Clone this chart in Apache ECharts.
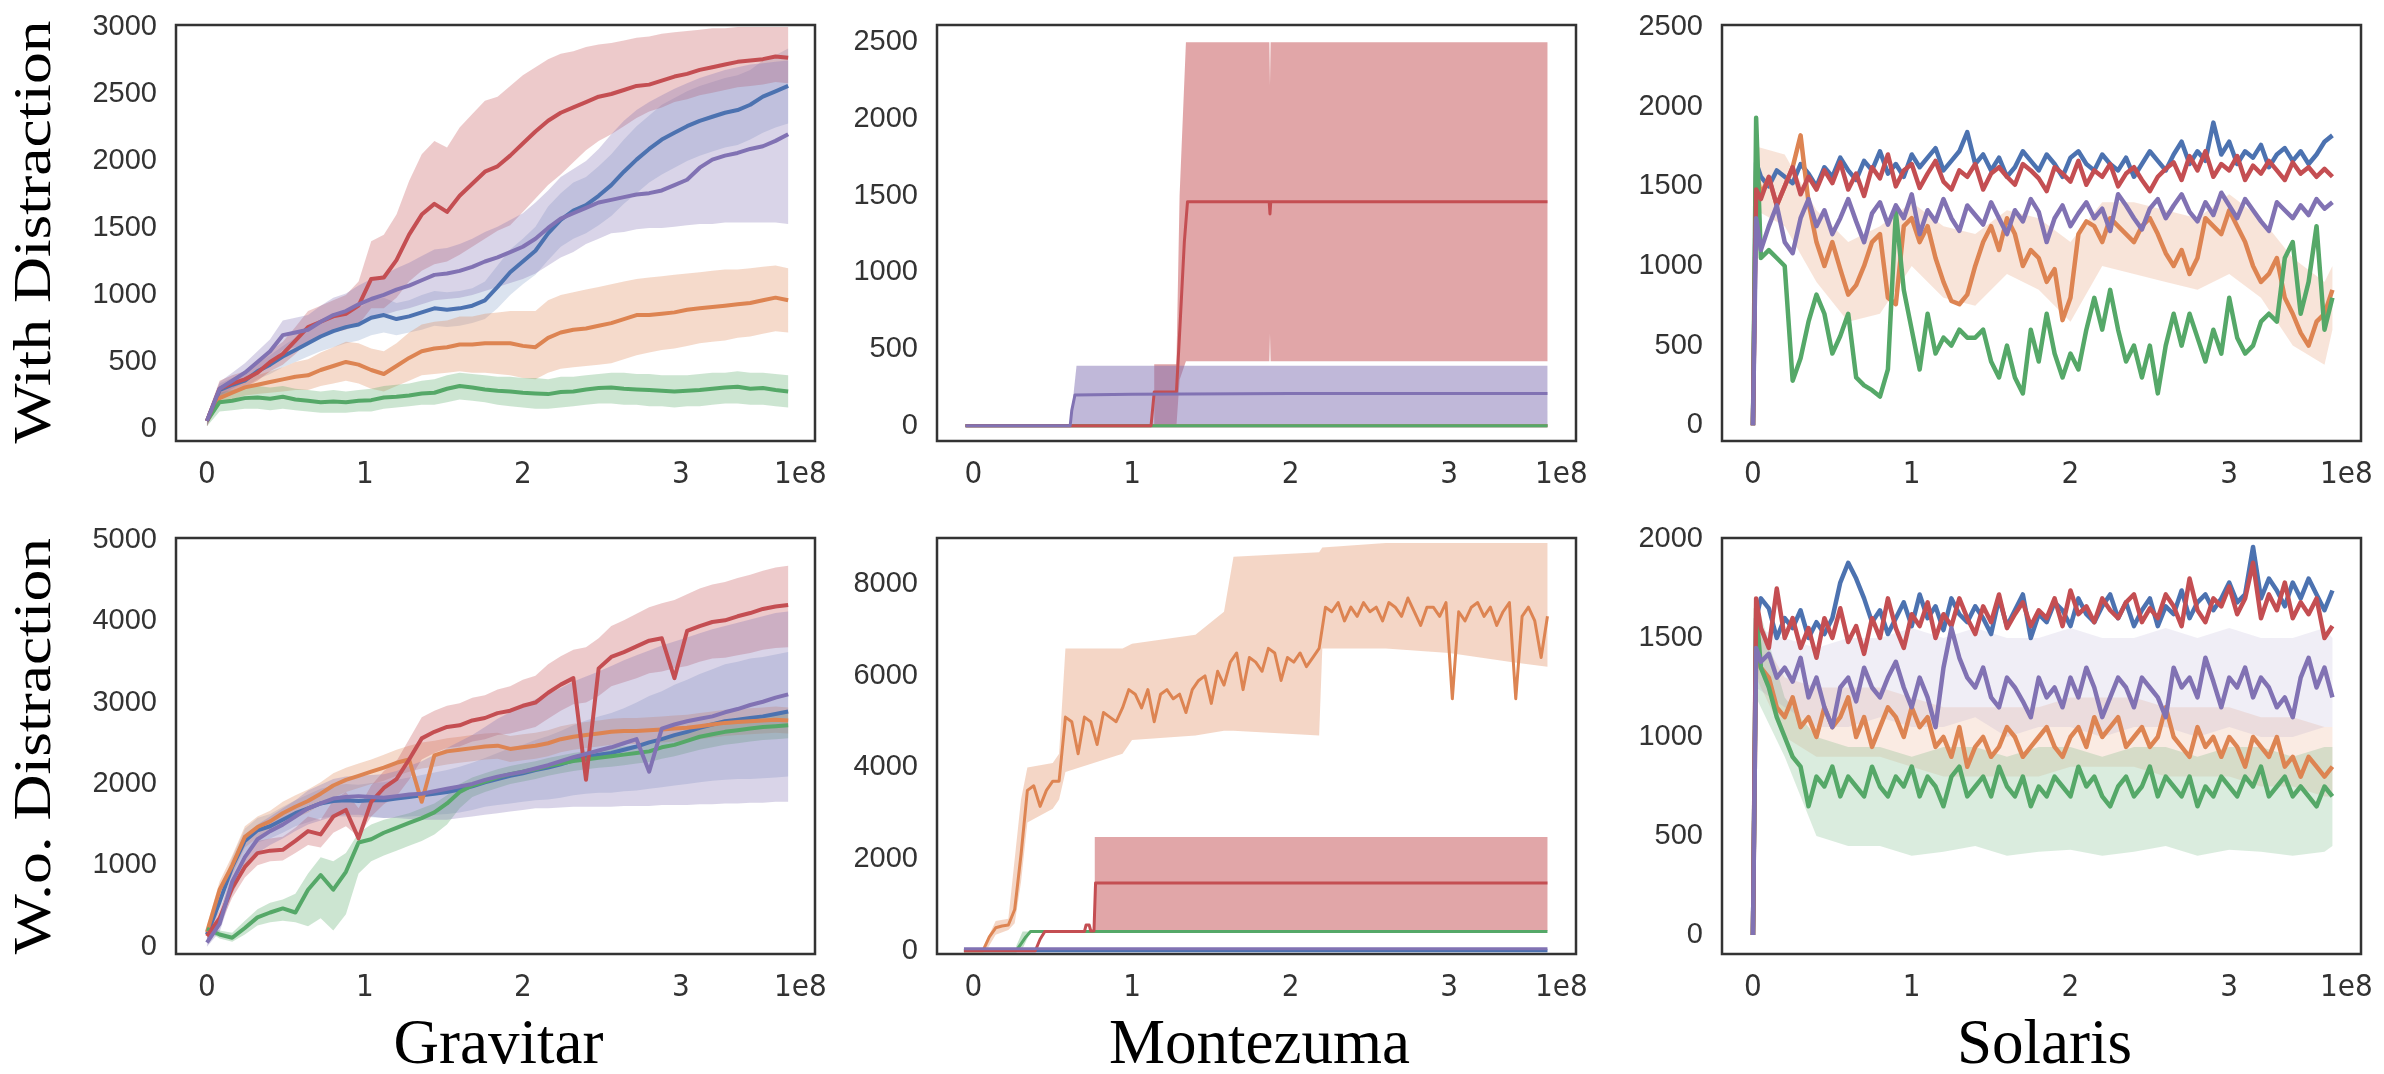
<!DOCTYPE html>
<html>
<head>
<meta charset="utf-8">
<title>Gravitar / Montezuma / Solaris</title>
<script src="https://cdn.jsdelivr.net/npm/echarts@6/dist/echarts.min.js"></script>
<style>
  html, body { margin: 0; padding: 0; background: #fff; }
  #chart { width: 2384px; height: 1074px; }
</style>
</head>
<body>
<div id="chart"></div>
<script>
/********* data (x in units of 1e8 steps) *********/
var xTicks = [0, 1, 2, 3];
var yTicksGravWith = [0, 500, 1000, 1500, 2000, 2500, 3000];
var yTicksMonteWith = [0, 500, 1000, 1500, 2000, 2500];
var yTicksSolWith = [0, 500, 1000, 1500, 2000, 2500];
var yTicksGravWo = [0, 1000, 2000, 3000, 4000, 5000];
var yTicksMonteWo = [0, 2000, 4000, 6000, 8000];
var yTicksSolWo = [0, 500, 1000, 1500, 2000];

// Gravitar
var gravX = [0, 0.08, 0.16, 0.24, 0.32, 0.40, 0.48, 0.56, 0.64, 0.72,
  0.80, 0.88, 0.96, 1.04, 1.12, 1.20, 1.28, 1.36, 1.44, 1.52,
  1.60, 1.68, 1.76, 1.84, 1.92, 2.00, 2.08, 2.16, 2.24, 2.32,
  2.40, 2.48, 2.56, 2.64, 2.72, 2.80, 2.88, 2.96, 3.04, 3.12,
  3.20, 3.28, 3.36, 3.44, 3.52, 3.60, 3.68];

var gravWithRed = [60, 300, 340, 370, 420, 500, 560, 660, 760, 800,
  840, 860, 920, 1120, 1130, 1260, 1450, 1600, 1680, 1620,
  1740, 1830, 1920, 1960, 2040, 2130, 2220, 2300, 2360, 2400,
  2440, 2480, 2500, 2530, 2560, 2570, 2600, 2630, 2650, 2680,
  2700, 2720, 2740, 2750, 2760, 2780, 2770];
var gravWithRedLo = [20, 240, 280, 310, 360, 430, 480, 560, 650, 690,
  720, 740, 780, 900, 900, 980, 1100, 1180, 1230, 1250,
  1300, 1360, 1420, 1480, 1520, 1620, 1720, 1820, 1900, 1990,
  2080, 2150, 2200, 2260, 2320, 2370, 2400, 2440, 2460, 2490,
  2510, 2530, 2550, 2560, 2570, 2590, 2580];
var gravWithRedHi = [100, 360, 400, 430, 490, 580, 650, 760, 880, 920,
  960, 1000, 1100, 1400, 1450, 1600, 1850, 2050, 2150, 2100,
  2250, 2350, 2450, 2480, 2560, 2640, 2700, 2760, 2800, 2820,
  2850, 2870, 2880, 2900, 2920, 2930, 2950, 2960, 2970, 2980,
  2990, 2990, 3000, 3000, 3000, 3000, 3000];
var gravWithBlue = [60, 290, 330, 360, 430, 480, 540, 590, 640, 690,
  730, 760, 780, 830, 850, 820, 840, 870, 900, 890,
  900, 920, 960, 1060, 1170, 1250, 1330, 1460, 1560, 1630,
  1670, 1740, 1820, 1920, 2010, 2090, 2160, 2210, 2260, 2300,
  2330, 2360, 2380, 2420, 2480, 2520, 2560];
var gravWithBlueLo = [20, 240, 280, 310, 370, 410, 460, 500, 540, 580,
  610, 640, 660, 700, 720, 700, 720, 740, 770, 760,
  770, 790, 820, 900, 1000, 1080, 1150, 1260, 1360, 1420,
  1460, 1520, 1590, 1680, 1760, 1840, 1900, 1950, 2000, 2040,
  2070, 2100, 2120, 2160, 2210, 2250, 2280];
var gravWithBlueHi = [100, 340, 380, 410, 490, 550, 620, 680, 740, 800,
  850, 880, 900, 960, 980, 940, 960, 1000, 1030, 1020,
  1030, 1050, 1100, 1220, 1340, 1420, 1510, 1660, 1760, 1840,
  1880, 1960, 2050, 2160, 2260, 2340, 2420, 2470, 2520, 2560,
  2590, 2620, 2640, 2680, 2750, 2790, 2840];
var gravWithPurple = [60, 300, 360, 420, 500, 580, 700, 720, 740, 800,
  850, 880, 930, 970, 1000, 1040, 1070, 1110, 1150, 1160,
  1180, 1210, 1250, 1280, 1320, 1360, 1420, 1500, 1570, 1610,
  1650, 1690, 1710, 1730, 1750, 1760, 1780, 1820, 1860, 1950,
  2010, 2040, 2060, 2090, 2110, 2150, 2200];
var gravWithPurpleLo = [20, 250, 300, 350, 420, 490, 590, 610, 630, 680,
  720, 750, 790, 820, 850, 880, 900, 930, 960, 970,
  980, 1000, 1030, 1060, 1090, 1120, 1160, 1220, 1280, 1320,
  1380, 1420, 1460, 1470, 1490, 1500, 1500, 1510, 1520, 1530,
  1530, 1540, 1540, 1540, 1540, 1540, 1530];
var gravWithPurpleHi = [100, 350, 420, 490, 580, 670, 810, 830, 850, 920,
  980, 1010, 1070, 1120, 1150, 1200, 1240, 1290, 1340, 1350,
  1380, 1420, 1470, 1510, 1560, 1610, 1690, 1780, 1880, 1940,
  2000, 2090, 2200, 2300, 2380, 2440, 2490, 2540, 2580, 2620,
  2650, 2680, 2700, 2720, 2730, 2740, 2750];
var gravWithOrange = [60, 230, 270, 310, 330, 350, 370, 390, 400, 440,
  470, 500, 480, 440, 410, 470, 530, 580, 600, 610,
  630, 630, 640, 640, 640, 620, 610, 680, 720, 740,
  750, 770, 790, 820, 850, 850, 860, 870, 890, 900,
  910, 920, 930, 940, 960, 980, 960];
var gravWithOrangeLo = [20, 190, 220, 250, 260, 270, 280, 290, 290, 320,
  340, 360, 340, 300, 280, 320, 360, 400, 410, 420,
  430, 420, 420, 410, 400, 380, 370, 420, 450, 460,
  470, 480, 490, 520, 550, 570, 590, 600, 620, 640,
  650, 660, 680, 690, 710, 730, 720];
var gravWithOrangeHi = [100, 270, 320, 370, 400, 430, 460, 500, 520, 570,
  610, 650, 640, 600, 580, 640, 720, 780, 800, 810,
  840, 840, 860, 870, 880, 880, 880, 960, 1000, 1020,
  1040, 1060, 1080, 1100, 1120, 1130, 1140, 1150, 1160, 1170,
  1180, 1190, 1190, 1200, 1210, 1220, 1200];
var gravWithGreen = [60, 200, 210, 230, 235, 225, 240, 220, 210, 200,
  205, 200, 210, 215, 235, 240, 250, 265, 270, 300,
  320, 310, 295, 285, 280, 270, 265, 260, 275, 280,
  295, 305, 310, 300, 295, 290, 285, 280, 285, 290,
  300, 310, 315, 300, 305, 290, 280];
var gravWithGreenLo = [20, 130, 140, 150, 150, 140, 150, 140, 130, 120,
  120, 120, 130, 130, 150, 160, 170, 180, 180, 200,
  220, 210, 200, 180, 170, 160, 150, 150, 160, 170,
  180, 190, 190, 180, 180, 170, 170, 160, 170, 170,
  180, 190, 190, 180, 180, 170, 160];
var gravWithGreenHi = [100, 270, 290, 310, 320, 310, 320, 300, 290, 280,
  290, 280, 290, 300, 320, 330, 340, 360, 370, 400,
  420, 410, 400, 390, 390, 380, 380, 370, 390, 390,
  400, 410, 420, 420, 410, 410, 400, 400, 400, 410,
  420, 420, 430, 420, 420, 410, 400];

var gravWoRed = [130, 350, 720, 980, 1150, 1180, 1190, 1300, 1420, 1380,
  1600, 1680, 1330, 1780, 1950, 2060, 2300, 2560, 2640, 2700,
  2720, 2780, 2810, 2870, 2900, 2960, 3000, 3120, 3220, 3300,
  2050, 3420, 3560, 3620, 3690, 3760, 3790, 3300, 3880, 3940,
  3990, 4010, 4060, 4100, 4150, 4180, 4200];
var gravWoRedLo = [60, 250, 600, 850, 1000, 1050, 1060, 1150, 1250, 1220,
  1400, 1480, 1350, 1600, 1750, 1850, 2050, 2300, 2380, 2440,
  2460, 2520, 2550, 2600, 2620, 2660, 2700, 2800, 2900, 2980,
  3000, 3080, 3200, 3250, 3300, 3360, 3380, 3420, 3450, 3500,
  3540, 3550, 3580, 3610, 3650, 3670, 3680];
var gravWoRedHi = [220, 450, 850, 1120, 1300, 1330, 1350, 1460, 1600, 1560,
  1800, 1900, 1700, 1980, 2160, 2280, 2550, 2820, 2900, 2960,
  2990, 3060, 3090, 3160, 3200, 3280, 3330, 3470, 3570, 3650,
  3680, 3790, 3940, 4010, 4090, 4170, 4220, 4260, 4330, 4400,
  4450, 4480, 4530, 4570, 4620, 4660, 4680];
var gravWoOrange = [180, 700, 1000, 1350, 1470, 1540, 1640, 1720, 1790, 1880,
  1980, 2050, 2100, 2150, 2200, 2260, 2300, 1780, 2350, 2400,
  2420, 2440, 2460, 2470, 2430, 2450, 2470, 2500, 2550, 2580,
  2600, 2620, 2640, 2650, 2650, 2660, 2670, 2680, 2690, 2710,
  2730, 2750, 2760, 2770, 2780, 2790, 2780];
var gravWoOrangeLo = [100, 600, 880, 1220, 1340, 1410, 1500, 1580, 1650, 1740,
  1830, 1900, 1950, 2000, 2040, 2100, 2150, 2190, 2210, 2240,
  2260, 2280, 2300, 2310, 2270, 2290, 2310, 2340, 2390, 2420,
  2440, 2460, 2480, 2490, 2490, 2500, 2510, 2520, 2530, 2550,
  2570, 2590, 2600, 2610, 2620, 2630, 2620];
var gravWoOrangeHi = [260, 800, 1120, 1480, 1600, 1670, 1780, 1860, 1930, 2020,
  2130, 2200, 2250, 2300, 2360, 2420, 2470, 2510, 2530, 2560,
  2580, 2600, 2620, 2630, 2590, 2610, 2630, 2660, 2710, 2740,
  2760, 2780, 2800, 2810, 2810, 2820, 2830, 2840, 2850, 2870,
  2890, 2910, 2920, 2930, 2940, 2950, 2940];
var gravWoBlue = [150, 550, 980, 1300, 1430, 1480, 1560, 1640, 1700, 1760,
  1790, 1800, 1790, 1800, 1800, 1820, 1840, 1860, 1880, 1900,
  1930, 1970, 2020, 2060, 2100, 2130, 2170, 2200, 2240, 2290,
  2330, 2360, 2380, 2420, 2460, 2510, 2550, 2600, 2640, 2690,
  2730, 2770, 2790, 2810, 2830, 2860, 2890];
var gravWoBlueLo = [80, 450, 850, 1150, 1280, 1330, 1400, 1480, 1530, 1580,
  1600, 1600, 1590, 1590, 1580, 1590, 1600, 1610, 1620, 1630,
  1650, 1680, 1720, 1740, 1760, 1780, 1800, 1810, 1830, 1860,
  1880, 1890, 1890, 1910, 1920, 1940, 1960, 1980, 2000, 2020,
  2040, 2050, 2060, 2060, 2070, 2080, 2090];
var gravWoBlueHi = [220, 650, 1100, 1450, 1580, 1630, 1720, 1800, 1870, 1940,
  1980, 2000, 1990, 2010, 2020, 2050, 2080, 2110, 2140, 2170,
  2210, 2260, 2320, 2380, 2440, 2480, 2540, 2590, 2650, 2720,
  2780, 2830, 2870, 2930, 3000, 3080, 3140, 3220, 3280, 3350,
  3410, 3470, 3500, 3540, 3560, 3590, 3620];
var gravWoPurple = [50, 280, 800, 1100, 1320, 1420, 1500, 1600, 1700, 1760,
  1820, 1840, 1850, 1840, 1830, 1850, 1870, 1880, 1910, 1940,
  1970, 2000, 2050, 2090, 2120, 2150, 2190, 2230, 2280, 2330,
  2370, 2410, 2450, 2500, 2550, 2150, 2680, 2730, 2770, 2800,
  2830, 2880, 2920, 2970, 3010, 3060, 3100];
var gravWoPurpleLo = [0, 180, 650, 950, 1150, 1250, 1330, 1420, 1500, 1550,
  1600, 1620, 1620, 1600, 1580, 1580, 1570, 1560, 1560, 1560,
  1580, 1600, 1620, 1640, 1660, 1680, 1700, 1700, 1710, 1720,
  1720, 1720, 1720, 1730, 1730, 1730, 1740, 1740, 1740, 1750,
  1750, 1760, 1760, 1770, 1770, 1780, 1780];
var gravWoPurpleHi = [120, 400, 950, 1250, 1500, 1600, 1700, 1800, 1920, 1990,
  2060, 2090, 2100, 2110, 2120, 2160, 2220, 2280, 2360, 2440,
  2520, 2600, 2700, 2800, 2880, 2960, 3040, 3100, 3180, 3260,
  3320, 3380, 3450, 3520, 3580, 3640, 3700, 3750, 3800, 3850,
  3900, 3940, 3980, 4020, 4060, 4100, 4120];
var gravWoGreen = [220, 150, 110, 230, 360, 420, 470, 420, 700, 880,
  700, 920, 1280, 1320, 1400, 1460, 1520, 1580, 1650, 1760,
  1900, 1980, 2030, 2080, 2120, 2150, 2180, 2220, 2250, 2280,
  2300, 2320, 2340, 2360, 2380, 2400, 2450, 2480, 2530, 2580,
  2610, 2640, 2660, 2680, 2700, 2710, 2720];
var gravWoGreenLo = [200, 100, 60, 150, 260, 300, 320, 300, 250, 350,
  200, 400, 900, 1050, 1120, 1180, 1240, 1300, 1380, 1500,
  1700, 1840, 1900, 1950, 2000, 2030, 2060, 2100, 2130, 2160,
  2180, 2200, 2210, 2230, 2250, 2270, 2310, 2340, 2380, 2420,
  2450, 2480, 2500, 2520, 2540, 2550, 2560];
var gravWoGreenHi = [250, 200, 170, 320, 460, 540, 580, 650, 900, 1100,
  1050, 1150, 1400, 1500, 1560, 1600, 1640, 1700, 1760, 1860,
  2000, 2080, 2130, 2180, 2220, 2250, 2280, 2320, 2350, 2380,
  2400, 2420, 2440, 2460, 2480, 2500, 2560, 2600, 2660, 2720,
  2760, 2790, 2800, 2820, 2840, 2860, 2870];

// Montezuma, with distraction (step-like curves)
var monteWithFlatX = [-0.05, 3.62];
var monteWithFlat = [0, 0];
var monteWithRedX = [-0.05, 1.12, 1.14, 1.28, 1.30, 1.33, 1.35, 1.865, 1.87, 1.875, 3.62];
var monteWithRed = [0, 0, 220, 220, 600, 1200, 1460, 1460, 1380, 1460, 1460];
var monteWithRedBandX = [1.14, 1.28, 1.30, 1.34, 1.866, 1.87, 1.874, 3.62];
var monteWithRedLo = [0, 0, 300, 420, 420, 600, 420, 420];
var monteWithRedHi = [400, 400, 1500, 2500, 2500, 2220, 2500, 2500];
var monteWithPurpleX = [-0.05, 0.61, 0.62, 0.64, 1.00, 2.00, 3.00, 3.62];
var monteWithPurple = [0, 0, 100, 200, 205, 210, 210, 210];
var monteWithPurpleBandX = [0.62, 0.65, 3.62];
var monteWithPurpleLo = [0, 0, 0];
var monteWithPurpleHi = [100, 390, 390];

// Montezuma, without distraction
var monteWoX = [-0.06, -0.02, 0.02, 0.06, 0.10, 0.14, 0.18, 0.22, 0.26, 0.30,
  0.34, 0.38, 0.42, 0.46, 0.50, 0.54, 0.58, 0.62, 0.66, 0.70,
  0.74, 0.78, 0.82, 0.86, 0.90, 0.94, 0.98, 1.02, 1.06, 1.10,
  1.14, 1.18, 1.22, 1.26, 1.30, 1.34, 1.38, 1.42, 1.46, 1.50,
  1.54, 1.58, 1.62, 1.66, 1.70, 1.74, 1.78, 1.82, 1.86, 1.90,
  1.94, 1.98, 2.02, 2.06, 2.10, 2.14, 2.18, 2.22, 2.26, 2.30,
  2.34, 2.38, 2.42, 2.46, 2.50, 2.54, 2.58, 2.62, 2.66, 2.70,
  2.74, 2.78, 2.82, 2.86, 2.90, 2.94, 2.98, 3.02, 3.06, 3.10,
  3.14, 3.18, 3.22, 3.26, 3.30, 3.34, 3.38, 3.42, 3.46, 3.50,
  3.54, 3.58, 3.62];
var monteWoOrange = [0, 0, 0, 0, 300, 500, 540, 560, 900, 2100,
  3500, 3600, 3150, 3500, 3700, 3700, 5100, 5000, 4300, 5100,
  5000, 4500, 5200, 5100, 5000, 5300, 5700, 5600, 5300, 5700,
  5000, 5600, 5700, 5500, 5600, 5200, 5700, 5900, 6000, 5400,
  6100, 5800, 6300, 6500, 5700, 6400, 6300, 6100, 6600, 6500,
  5900, 6400, 6300, 6500, 6200, 6400, 6600, 7500, 7400, 7600,
  7200, 7500, 7300, 7600, 7400, 7500, 7200, 7600, 7500, 7300,
  7700, 7400, 7100, 7500, 7500, 7300, 7600, 5500, 7400, 7200,
  7500, 7600, 7300, 7500, 7100, 7400, 7600, 5500, 7300, 7500,
  7200, 6400, 7300];
var monteWoOrangeBandX = [0.08, 0.14, 0.22, 0.26, 0.30, 0.34, 0.50, 0.54, 0.58, 0.94,
  1.00, 1.40, 1.58, 1.64, 2.18, 2.20, 2.60, 3.00, 3.40, 3.62];
var monteWoOrangeLo = [0, 350, 450, 600, 1500, 2800, 3100, 3300, 3900, 4300,
  4600, 4700, 4800, 4800, 4700, 6600, 6600, 6500, 6300, 6200];
var monteWoOrangeHi = [200, 650, 700, 2000, 3300, 4000, 4100, 4300, 6600, 6600,
  6700, 6900, 7400, 8600, 8700, 8800, 8900, 8900, 8900, 8900];
var monteWoFlatX = [-0.06, 3.62];
var monteWoBlue = [0, 0];
var monteWoPurple = [40, 40];
var monteWoRedX = [-0.06, 0.39, 0.42, 0.45, 0.70, 0.71, 0.73, 0.74, 0.76, 0.77, 3.62];
var monteWoRed = [0, 0, 250, 420, 420, 560, 560, 430, 430, 1480, 1480];
var monteWoRedBandX = [0.765, 3.62];
var monteWoRedLo = [430, 430];
var monteWoRedHi = [2480, 2480];
var monteWoGreenX = [-0.06, 0.27, 0.30, 0.33, 0.36, 3.62];
var monteWoGreen = [0, 0, 150, 300, 420, 420];
var monteWoGreenBandX = [0.27, 0.31, 0.36];
var monteWoGreenLo = [0, 50, 420];
var monteWoGreenHi = [100, 420, 420];

// Solaris
var solX = [0, 0.02, 0.05, 0.10, 0.15, 0.20, 0.25, 0.30, 0.35, 0.40,
  0.45, 0.50, 0.55, 0.60, 0.65, 0.70, 0.75, 0.80, 0.85, 0.90,
  0.95, 1.00, 1.05, 1.10, 1.15, 1.20, 1.25, 1.30, 1.35, 1.40,
  1.45, 1.50, 1.55, 1.60, 1.65, 1.70, 1.75, 1.80, 1.85, 1.90,
  1.95, 2.00, 2.05, 2.10, 2.15, 2.20, 2.25, 2.30, 2.35, 2.40,
  2.45, 2.50, 2.55, 2.60, 2.65, 2.70, 2.75, 2.80, 2.85, 2.90,
  2.95, 3.00, 3.05, 3.10, 3.15, 3.20, 3.25, 3.30, 3.35, 3.40,
  3.45, 3.50, 3.55, 3.60, 3.65];
var solBandX = [0.02, 0.2, 0.4, 0.6, 0.8, 1.0, 1.2, 1.4, 1.6, 1.8,
  2.0, 2.2, 2.4, 2.6, 2.8, 3.0, 3.2, 3.4, 3.6, 3.65];

var solWithRed = [0, 1480, 1420, 1560, 1380, 1500, 1620, 1450, 1560, 1480,
  1600, 1520, 1650, 1480, 1580, 1440, 1620, 1550, 1700, 1500,
  1600, 1640, 1490, 1580, 1660, 1530, 1480, 1600, 1560, 1640,
  1480, 1580, 1620, 1560, 1510, 1640, 1600, 1550, 1470, 1620,
  1580, 1530, 1660, 1510, 1600, 1560, 1640, 1500, 1580, 1620,
  1540, 1470, 1560, 1610, 1650, 1540, 1690, 1600, 1720, 1560,
  1640, 1600, 1690, 1540, 1630, 1580, 1660, 1600, 1540, 1650,
  1580, 1620, 1560, 1610, 1560];
var solWithBlue = [0, 1650, 1560, 1500, 1600, 1560, 1520, 1640, 1580, 1500,
  1620, 1560, 1680, 1600, 1540, 1660, 1600, 1720, 1580, 1640,
  1560, 1700, 1620, 1680, 1740, 1600, 1660, 1720, 1840, 1640,
  1700, 1600, 1680, 1560, 1620, 1720, 1660, 1600, 1700, 1640,
  1560, 1680, 1720, 1640, 1600, 1700, 1640, 1600, 1680, 1560,
  1640, 1720, 1660, 1600, 1700, 1780, 1640, 1720, 1660, 1900,
  1700, 1780, 1640, 1720, 1680, 1760, 1620, 1700, 1740, 1660,
  1720, 1640, 1700, 1780, 1820];
var solWithPurple = [0, 1300, 1100, 1250, 1380, 1150, 1080, 1300, 1420, 1250,
  1350, 1200, 1300, 1420, 1280, 1150, 1330, 1400, 1260, 1380,
  1300, 1450, 1200, 1350, 1280, 1420, 1300, 1220, 1380, 1320,
  1260, 1400, 1300, 1200, 1350, 1280, 1420, 1340, 1150, 1300,
  1380, 1250, 1330, 1400, 1300, 1360, 1220, 1450, 1380, 1300,
  1230, 1360, 1420, 1300, 1380, 1450, 1340, 1280, 1400, 1320,
  1460, 1380, 1300, 1420, 1350, 1280, 1220, 1400, 1350, 1300,
  1380, 1320, 1420, 1360, 1400];
var solWithOrange = [0, 1600, 1450, 1550, 1380, 1500, 1620, 1820, 1400, 1150,
  1000, 1150, 980, 820, 880, 1000, 1150, 1200, 800, 760,
  1250, 1300, 1150, 1250, 1050, 900, 780, 760, 820, 1000,
  1150, 1250, 1100, 1300, 1200, 1000, 1100, 1050, 900, 980,
  660, 800, 1200, 1280, 1250, 1150, 1300, 1250, 1200, 1150,
  1250, 1300, 1200, 1080, 1000, 1100, 950, 1050, 1300, 1250,
  1200, 1350, 1250, 1150, 1000, 900, 950, 1050, 800, 700,
  580, 500, 650, 700, 850];
var solWithGreen = [0, 1930, 1050, 1100, 1050, 1000, 280, 420, 650, 820,
  700, 450, 560, 700, 300, 250, 220, 180, 350, 1340,
  850, 600, 350, 700, 450, 550, 500, 600, 550, 550,
  600, 400, 300, 500, 300, 200, 600, 400, 700, 450,
  300, 450, 350, 600, 800, 600, 850, 600, 400, 500,
  300, 500, 200, 500, 700, 500, 700, 550, 400, 600,
  450, 800, 550, 450, 500, 650, 700, 650, 1050, 1150,
  700, 900, 1250, 600, 800];
var solWithOrangeLo = [1350, 1250, 900, 650, 700, 1000, 800, 750, 950, 850,
  650, 1000, 950, 900, 850, 950, 800, 500, 380, 600];
var solWithOrangeHi = [1750, 1700, 1350, 1150, 1250, 1400, 1250, 1200, 1350, 1300,
  1150, 1400, 1400, 1350, 1300, 1450, 1300, 1050, 900, 1000];

var solWoRed = [0, 1700, 1550, 1450, 1750, 1500, 1600, 1450, 1550, 1400,
  1600, 1500, 1650, 1480, 1560, 1420, 1600, 1500, 1700, 1550,
  1450, 1620, 1560, 1680, 1500, 1620, 1560, 1700, 1600, 1520,
  1660, 1580, 1720, 1550, 1620, 1680, 1560, 1640, 1600, 1700,
  1560, 1740, 1620, 1660, 1580, 1700, 1640, 1600, 1680, 1720,
  1580, 1650, 1600, 1720, 1660, 1560, 1800, 1640, 1580, 1700,
  1660, 1760, 1620, 1700, 1880, 1600, 1720, 1640, 1780, 1600,
  1680, 1620, 1700, 1500, 1560];
var solWoBlue = [0, 1600, 1700, 1650, 1500, 1600, 1550, 1640, 1500, 1580,
  1520, 1600, 1780, 1880, 1800, 1700, 1580, 1640, 1520, 1600,
  1680, 1560, 1720, 1600, 1660, 1540, 1700, 1620, 1580, 1660,
  1600, 1520, 1700, 1560, 1640, 1720, 1500, 1620, 1580, 1680,
  1640, 1560, 1700, 1620, 1580, 1660, 1720, 1600, 1680, 1560,
  1640, 1700, 1560, 1660, 1620, 1740, 1600, 1680, 1720, 1640,
  1700, 1780, 1680, 1720, 1960, 1700, 1800, 1740, 1660, 1780,
  1700, 1800, 1720, 1640, 1740];
var solWoPurple = [0, 1450, 1380, 1420, 1300, 1350, 1280, 1400, 1200, 1300,
  1150, 1050, 1250, 1300, 1180, 1350, 1250, 1200, 1300, 1380,
  1250, 1150, 1300, 1200, 1050, 1350, 1550, 1400, 1300, 1250,
  1350, 1200, 1150, 1300, 1250, 1180, 1100, 1300, 1200, 1250,
  1150, 1300, 1200, 1350, 1250, 1100, 1200, 1300, 1250, 1150,
  1300, 1250, 1200, 1100, 1350, 1250, 1300, 1200, 1400, 1280,
  1150, 1300, 1250, 1350, 1200, 1300, 1250, 1150, 1200, 1100,
  1300, 1400, 1250, 1350, 1200];
var solWoOrange = [0, 1450, 1350, 1300, 1150, 1100, 1200, 1050, 1100, 1000,
  1150, 1050, 1100, 1200, 1000, 1100, 950, 1050, 1150, 1100,
  1000, 1150, 1050, 1100, 950, 1000, 900, 1050, 850, 950,
  1000, 900, 950, 1050, 1000, 900, 950, 1000, 1050, 950,
  900, 1000, 1050, 950, 1100, 1000, 1050, 1100, 950, 1000,
  1050, 950, 1000, 1150, 1000, 950, 900, 1050, 950, 1000,
  900, 1000, 950, 850, 1000, 950, 900, 1000, 850, 900,
  800, 900, 850, 800, 850];
var solWoGreen = [0, 1650, 1350, 1250, 1100, 1000, 900, 850, 650, 800,
  750, 850, 700, 800, 750, 700, 850, 750, 700, 800,
  750, 850, 700, 800, 750, 650, 800, 850, 700, 750,
  800, 700, 850, 750, 700, 800, 650, 750, 700, 800,
  750, 700, 850, 750, 800, 700, 650, 750, 800, 700,
  750, 850, 700, 800, 750, 700, 800, 650, 750, 700,
  800, 750, 700, 800, 750, 850, 700, 750, 800, 700,
  750, 700, 650, 750, 700];
var solWoGreenLo = [1200, 900, 500, 450, 450, 400, 420, 450, 400, 420,
  430, 400, 420, 450, 400, 430, 420, 400, 420, 450];
var solWoGreenHi = [1700, 1200, 1000, 950, 950, 900, 950, 950, 900, 950,
  950, 900, 950, 950, 900, 950, 950, 900, 950, 950];
var solWoPurpleLo = [1250, 1150, 1050, 1050, 1100, 1050, 1050, 1100, 1000, 1050,
  1050, 1000, 1050, 1050, 1000, 1050, 1000, 1000, 1050, 1050];
var solWoPurpleHi = [1550, 1500, 1450, 1500, 1500, 1550, 1500, 1550, 1500, 1500,
  1550, 1500, 1500, 1550, 1500, 1550, 1500, 1500, 1550, 1500];
var solWoOrangeLo = [1300, 1000, 900, 900, 900, 850, 800, 800, 800, 800,
  850, 850, 850, 800, 800, 800, 750, 750, 700, 700];
var solWoOrangeHi = [1550, 1300, 1250, 1250, 1250, 1200, 1150, 1150, 1150, 1150,
  1200, 1200, 1200, 1150, 1150, 1150, 1100, 1100, 1050, 1050];

/********* layout / style *********/
var colLeft = [176, 937, 1722];
var rowTop = [25, 538];
var boxW = 639, boxH = 416;
var C = { blue: '#4c72b0', orange: '#dd8452', green: '#55a868', red: '#c44e52', purple: '#8172b3' };
var tickFont = "'DejaVu Sans Condensed', 'DejaVu Sans', sans-serif";

function band(x, lo, hi, color, op) { return { x: x, lo: lo, hi: hi, color: color, op: op }; }
function line(x, y, color) { return { x: x, y: y, color: color }; }

var panels = [
  { row: 0, col: 0, xr: [-0.196, 3.85], yr: [-90, 3015], yTicks: yTicksGravWith, lw: 4, op: 0.3,
    bands: [band(gravX, gravWithBlueLo, gravWithBlueHi, C.blue, 0.2), band(gravX, gravWithOrangeLo, gravWithOrangeHi, C.orange),
      band(gravX, gravWithGreenLo, gravWithGreenHi, C.green), band(gravX, gravWithRedLo, gravWithRedHi, C.red),
      band(gravX, gravWithPurpleLo, gravWithPurpleHi, C.purple)],
    lines: [line(gravX, gravWithBlue, C.blue), line(gravX, gravWithOrange, C.orange), line(gravX, gravWithGreen, C.green),
      line(gravX, gravWithRed, C.red), line(gravX, gravWithPurple, C.purple)] },
  { row: 0, col: 1, xr: [-0.23, 3.80], yr: [-100, 2612], yTicks: yTicksMonteWith, lw: 3, op: 0.5,
    bands: [band(monteWithRedBandX, monteWithRedLo, monteWithRedHi, C.red),
      band(monteWithPurpleBandX, monteWithPurpleLo, monteWithPurpleHi, C.purple)],
    lines: [line(monteWithFlatX, monteWithFlat, C.blue), line(monteWithFlatX, monteWithFlat, C.orange),
      line(monteWithFlatX, monteWithFlat, C.green), line(monteWithRedX, monteWithRed, C.red),
      line(monteWithPurpleX, monteWithPurple, C.purple)] },
  { row: 0, col: 2, xr: [-0.195, 3.83], yr: [-99, 2513], yTicks: yTicksSolWith, lw: 4.5, op: 0.22,
    bands: [band(solBandX, solWithOrangeLo, solWithOrangeHi, C.orange)],
    lines: [line(solX, solWithBlue, C.blue), line(solX, solWithOrange, C.orange), line(solX, solWithGreen, C.green),
      line(solX, solWithRed, C.red), line(solX, solWithPurple, C.purple)] },
  { row: 1, col: 0, xr: [-0.196, 3.85], yr: [-90, 5022], yTicks: yTicksGravWo, lw: 4, op: 0.3,
    bands: [band(gravX, gravWoBlueLo, gravWoBlueHi, C.blue, 0.2), band(gravX, gravWoOrangeLo, gravWoOrangeHi, C.orange),
      band(gravX, gravWoGreenLo, gravWoGreenHi, C.green), band(gravX, gravWoRedLo, gravWoRedHi, C.red),
      band(gravX, gravWoPurpleLo, gravWoPurpleHi, C.purple)],
    lines: [line(gravX, gravWoBlue, C.blue), line(gravX, gravWoOrange, C.orange), line(gravX, gravWoGreen, C.green),
      line(gravX, gravWoRed, C.red), line(gravX, gravWoPurple, C.purple)] },
  { row: 1, col: 1, xr: [-0.23, 3.80], yr: [-72, 9010], yTicks: yTicksMonteWo, lw: 3, op: 0.5,
    bands: [band(monteWoOrangeBandX, monteWoOrangeLo, monteWoOrangeHi, C.orange, 0.33),
      band(monteWoGreenBandX, monteWoGreenLo, monteWoGreenHi, C.green, 0.35),
      band(monteWoRedBandX, monteWoRedLo, monteWoRedHi, C.red)],
    lines: [line(monteWoFlatX, monteWoBlue, C.blue), line(monteWoX, monteWoOrange, C.orange),
      line(monteWoGreenX, monteWoGreen, C.green), line(monteWoRedX, monteWoRed, C.red),
      line(monteWoFlatX, monteWoPurple, C.purple)] },
  { row: 1, col: 2, xr: [-0.195, 3.83], yr: [-96, 2005], yTicks: yTicksSolWo, lw: 4.5, op: 0.16,
    bands: [band(solBandX, solWoOrangeLo, solWoOrangeHi, C.orange), band(solBandX, solWoGreenLo, solWoGreenHi, C.green, 0.22),
      band(solBandX, solWoPurpleLo, solWoPurpleHi, C.purple, 0.12)],
    lines: [line(solX, solWoBlue, C.blue), line(solX, solWoOrange, C.orange), line(solX, solWoGreen, C.green),
      line(solX, solWoRed, C.red), line(solX, solWoPurple, C.purple)] }
];

function pairs(xs, ys) {
  var out = [];
  for (var i = 0; i < xs.length && i < ys.length; i++) out.push([xs[i], ys[i]]);
  return out;
}
function plain(v) { return String(v); }

var grids = [], xAxes = [], yAxes = [], series = [], graphics = [];

panels.forEach(function (p, k) {
  var left = colLeft[p.col], top = rowTop[p.row];
  grids.push({ left: left, top: top, width: boxW, height: boxH, show: true,
    borderColor: '#333', borderWidth: 2.5, backgroundColor: '#fff', outerBoundsMode: 'none' });
  xAxes.push({ type: 'value', gridIndex: k, min: p.xr[0], max: p.xr[1],
    axisLine: { show: false }, axisTick: { show: false }, splitLine: { show: false },
    axisLabel: { customValues: xTicks, formatter: plain, margin: 18, fontSize: 31, color: '#333', fontFamily: tickFont } });
  yAxes.push({ type: 'value', gridIndex: k, min: p.yr[0], max: p.yr[1],
    axisLine: { show: false }, axisTick: { show: false }, splitLine: { show: false },
    axisLabel: { customValues: p.yTicks, formatter: plain, margin: 19, fontSize: 29, color: '#333',
      fontFamily: 'Liberation Sans, Arial, sans-serif' } });

  p.bands.forEach(function (b) {
    var op = b.op != null ? b.op : p.op;
    series.push({
      type: 'custom', xAxisIndex: k, yAxisIndex: k, silent: true, clip: true, z: 1,
      data: [[b.x[0], b.hi[0]]],
      renderItem: function (params, api) {
        var pts = [];
        for (var i = 0; i < b.x.length; i++) pts.push(api.coord([b.x[i], b.hi[i]]));
        for (var j = b.x.length - 1; j >= 0; j--) pts.push(api.coord([b.x[j], b.lo[j]]));
        return { type: 'polygon', shape: { points: pts }, style: { fill: b.color, opacity: op } };
      }
    });
  });
  p.lines.forEach(function (l) {
    series.push({
      type: 'line', xAxisIndex: k, yAxisIndex: k, data: pairs(l.x, l.y), silent: true, z: 3,
      showSymbol: false, symbol: 'none', clip: true,
      lineStyle: { width: p.lw, color: l.color, join: 'round' }, itemStyle: { color: l.color }
    });
  });

  // offset label of the x axis
  graphics.push({ type: 'text', x: left + boxW - 41, y: top + boxH + 34,
    style: { text: '1e8', font: '31px ' + tickFont, fill: '#333', textAlign: 'left', textVerticalAlign: 'middle' } });
});

// row and column titles
var serif = '"Liberation Serif", "Times New Roman", serif';
graphics.push({ type: 'text', x: 36, y: 232, rotation: Math.PI / 2, scaleX: 1.2,
  style: { text: 'With Distraction', font: '53px ' + serif, fill: '#000', textAlign: 'center', textVerticalAlign: 'middle' } });
graphics.push({ type: 'text', x: 36, y: 746, rotation: Math.PI / 2, scaleX: 1.2,
  style: { text: 'W.o. Distraction', font: '53px ' + serif, fill: '#000', textAlign: 'center', textVerticalAlign: 'middle' } });
['Gravitar', 'Montezuma', 'Solaris'].forEach(function (name, c) {
  graphics.push({ type: 'text', x: colLeft[c] + boxW / 2 + 3, y: 1046,
    style: { text: name, font: '63px ' + serif, fill: '#000', textAlign: 'center', textVerticalAlign: 'middle' } });
});

var chart = echarts.init(document.getElementById('chart'));
chart.setOption({
  animation: false,
  backgroundColor: '#fff',
  grid: grids,
  xAxis: xAxes,
  yAxis: yAxes,
  series: series,
  graphic: graphics
});
</script>
</body>
</html>
